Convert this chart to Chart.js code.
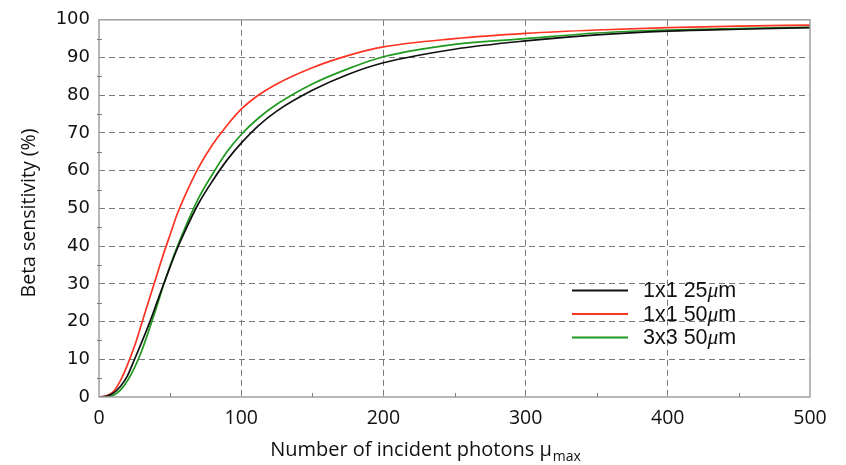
<!DOCTYPE html>
<html>
<head>
<meta charset="utf-8">
<script src="https://cdn.jsdelivr.net/npm/chart.js@4/dist/chart.umd.min.js"></script>
<style>
  html, body { margin: 0; padding: 0; background: #fff; }
  #wrap { width: 846px; height: 465px; position: relative; }
</style>
</head>
<body>
<div id="wrap"><canvas id="betaChart" width="846" height="465"></canvas></div>
<script>
// Beta sensitivity vs number of incident photons

const photons = [0, 5, 10, 15, 20, 25, 30, 35, 40, 45, 50, 55, 60, 70, 80, 90, 100, 112, 125, 150, 175, 200, 250, 300, 350, 400, 450, 500];

const sens1x1_25 = [0, 0.2, 1.0, 2.8, 5.6, 10, 14.5, 19.2, 24.3, 29.5, 34.5, 39.3, 43.6, 51.3, 57.4, 62.8, 67.3, 71.9, 75.8, 81.3, 85.5, 88.6, 92.2, 94.4, 96.0, 97.0, 97.5, 97.9];
const sens1x1_50 = [0, 0.3, 1.4, 4.3, 8.5, 13.5, 19.5, 25.5, 31.5, 37.5, 43, 48.5, 53, 60.8, 67, 72, 76.3, 80.0, 83, 87.3, 90.5, 92.8, 95.0, 96.4, 97.3, 97.9, 98.3, 98.6];
const sens3x3_50 = [0, 0.05, 0.4, 1.8, 4.3, 7.8, 12.2, 17.6, 23.3, 29.2, 34.8, 39.8, 44.4, 52.7, 59.2, 65, 69.6, 73.9, 77.6, 83, 87, 90.2, 93.5, 95.0, 96.5, 97.3, 97.7, 98.0];

const seriesLabels = ['1x1 25\u03bcm', '1x1 50\u03bcm', '3x3 50\u03bcm'];
const seriesColors = ['#111111', '#ff3322', '#1f9a1f'];

const xTicks = [0, 100, 200, 300, 400, 500];
const yTicks = [0, 10, 20, 30, 40, 50, 60, 70, 80, 90, 100];

function toPoints(ys) {
    return photons.map(function(x, i) { return { x: x, y: ys[i] }; });
}

// frame, minor ticks, axis titles and the legend block
const decorations = {
    id: 'decorations',
    afterDraw: function(chart) {
        const ctx = chart.ctx;
        const area = chart.chartArea;
        const xs = chart.scales.x;
        const ys = chart.scales.y;
        ctx.save();

        ctx.strokeStyle = '#a0a0a0';
        ctx.lineWidth = 1.5;
        ctx.strokeRect(area.left, area.top, area.right - area.left, area.bottom - area.top);

        ctx.lineWidth = 1;
        ctx.strokeStyle = '#808080';
        for (let v = 50; v < 500; v += 100) {
            const px = Math.round(xs.getPixelForValue(v)) + 0.5;
            ctx.beginPath();
            ctx.moveTo(px, area.bottom);
            ctx.lineTo(px, area.bottom - 4);
            ctx.stroke();
        }
        for (let v = 5; v < 100; v += 10) {
            const py = Math.round(ys.getPixelForValue(v)) + 0.5;
            ctx.beginPath();
            ctx.moveTo(area.left - 2, py);
            ctx.lineTo(area.left + 3, py);
            ctx.stroke();
        }

        // y axis title
        ctx.fillStyle = '#111';
        ctx.font = '19.5px "Open Sans", "Noto Sans", sans-serif';
        ctx.textAlign = 'center';
        ctx.textBaseline = 'middle';
        ctx.save();
        ctx.translate(29, 213);
        ctx.rotate(-Math.PI / 2);
        ctx.fillText('Beta sensitivity (%)', 0, 0);
        ctx.restore();

        // x axis title with subscript
        const main = 'Number of incident photons \u03bc';
        const sub = 'max';
        ctx.font = '20px "Open Sans", "Noto Sans", sans-serif';
        const wMain = ctx.measureText(main).width;
        ctx.font = '14px "Open Sans", "Noto Sans", sans-serif';
        const wSub = ctx.measureText(sub).width;
        const tx = 425 - (wMain + wSub) / 2;
        ctx.textAlign = 'left';
        ctx.textBaseline = 'alphabetic';
        ctx.font = '20px "Open Sans", "Noto Sans", sans-serif';
        ctx.fillText(main, tx, 456);
        ctx.font = '14px "Open Sans", "Noto Sans", sans-serif';
        ctx.fillText(sub, tx + wMain + 1, 461);

        // legend
        ctx.textBaseline = 'middle';
        chart.data.datasets.forEach(function(ds, i) {
            const ly = 290.5 + i * 23.5;
            ctx.strokeStyle = ds.borderColor;
            ctx.lineWidth = 2;
            ctx.beginPath();
            ctx.moveTo(572, ly);
            ctx.lineTo(628, ly);
            ctx.stroke();
            ctx.fillStyle = '#111';
            const txt = ds.label;
            const idx = txt.indexOf('\u03bc');
            const head = txt.slice(0, idx);
            ctx.font = '21.5px "Liberation Sans", Arial, sans-serif';
            ctx.fillText(head, 643, ly + 1);
            const hw = ctx.measureText(head).width;
            ctx.font = 'italic 21.5px "Liberation Serif", serif';
            ctx.fillText('\u03bc', 643 + hw, ly + 1);
            const mw = ctx.measureText('\u03bc').width;
            ctx.font = '21.5px "Liberation Sans", Arial, sans-serif';
            ctx.fillText(txt.slice(idx + 1), 643 + hw + mw, ly + 1);
        });

        ctx.restore();
    }
};

function gridColor(lo, hi) {
    return function(c) {
        return (c.tick && (c.tick.value === lo || c.tick.value === hi)) ? 'rgba(0,0,0,0)' : '#7a7a7a';
    };
}

new Chart(document.getElementById('betaChart').getContext('2d'), {
    type: 'line',
    data: {
        datasets: [
            { label: seriesLabels[0], data: toPoints(sens1x1_25), borderColor: seriesColors[0] },
            { label: seriesLabels[1], data: toPoints(sens1x1_50), borderColor: seriesColors[1] },
            { label: seriesLabels[2], data: toPoints(sens3x3_50), borderColor: seriesColors[2] }
        ].map(function(d) {
            return Object.assign(d, {
                borderWidth: 1.7,
                pointRadius: 0,
                fill: false,
                cubicInterpolationMode: 'monotone'
            });
        })
    },
    options: {
        responsive: false,
        animation: false,
        layout: { padding: { left: 0, right: 36, top: 17, bottom: 0 } },
        plugins: {
            legend: { display: false },
            tooltip: { enabled: false }
        },
        scales: {
            x: {
                type: 'linear',
                min: 0,
                max: 500,
                afterBuildTicks: function(scale) {
                    scale.ticks = xTicks.map(function(v) { return { value: v }; });
                },
                afterFit: function(scale) { scale.height = 68; },
                border: { display: false, dash: [6, 4] },
                grid: { color: gridColor(0, 500), lineWidth: 1, drawTicks: false },
                ticks: {
                    padding: 10,
                    color: '#111',
                    font: { family: '"Open Sans", "Noto Sans", sans-serif', size: 19.5 }
                }
            },
            y: {
                min: 0,
                max: 100,
                afterBuildTicks: function(scale) {
                    scale.ticks = yTicks.map(function(v) { return { value: v }; });
                },
                afterFit: function(scale) { scale.width = 99; },
                border: { display: false, dash: [6, 4] },
                grid: { color: gridColor(0, 100), lineWidth: 1, drawTicks: false },
                ticks: {
                    padding: 9,
                    color: '#111',
                    font: { family: '"DejaVu Sans", sans-serif', size: 18 }
                }
            }
        }
    },
    plugins: [decorations]
});
</script>
</body>
</html>
